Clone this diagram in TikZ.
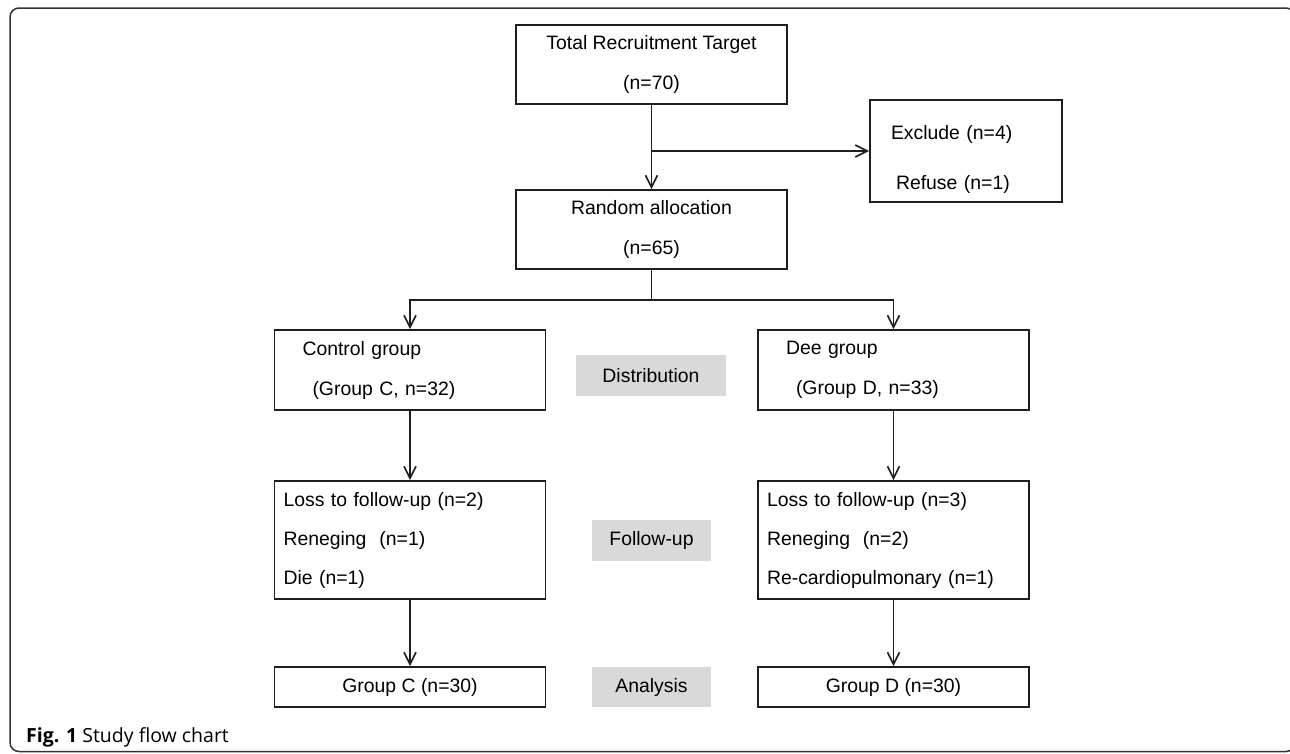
\documentclass[tikz,border=0pt]{standalone}
\usepackage{fontspec}
\setmainfont{Liberation Sans}
\newfontfamily\capfont{Open Sans}
\usepackage{xcolor}
\usepackage{tikz}
\usetikzlibrary{positioning,arrows.meta,calc}
\definecolor{tagGray}{HTML}{D9D9D9}
\definecolor{lineDark}{HTML}{1E1E1E}

\tikzset{
  flowBox/.style={draw=lineDark, line width=1.7pt, rectangle, minimum width=271pt,
    inner sep=0pt, align=center, font=\fontsize{19.4}{40}\selectfont},
  listBox/.style={flowBox, text width=253pt, inner xsep=9pt, align=left,
    font=\fontsize{19.4}{39}\selectfont},
  groupBox/.style={flowBox, text width=215pt, inner xsep=28pt, align=left},
  stageTag/.style={fill=tagGray, minimum height=41pt, inner sep=0pt,
    font=\fontsize{19.4}{23}\selectfont},
  flowArrow/.style={draw=lineDark, line width=1.7pt,
    -{Straight Barb[length=12pt,width=12pt,line width=1.7pt]}},
}

\begin{document}
\begin{tikzpicture}[x=1pt, y=-1pt]
  \useasboundingbox (0,0) rectangle (1290,753);
  % outer frame
  \draw[black!80, line width=1.5pt, rounded corners=9pt] (10,8) rectangle (1295,751.5);

  % Boxes
  \node[flowBox, minimum height=79pt] (total) at (651.5,64.5) {Total Recruitment Target\\(n=70)};
  \node[flowBox, minimum width=192pt, minimum height=102pt, text width=150pt,
        inner xsep=21pt, align=left, font=\fontsize{19.4}{50}\selectfont]
        (excl) at (966,151) {\raisebox{-13pt}[0pt][0pt]{Exclude (n=4)}\\\hspace*{5pt}\raisebox{-13pt}[0pt][0pt]{Refuse (n=1)}};
  \node[flowBox, minimum height=79pt] (rand) at (651.5,229.5) {Random allocation\\(n=65)};

  \node[groupBox, minimum height=80pt] (ctrl) at (410,370)
    {Control group\\\hspace*{10pt}(Group C, n=32)};
  \node[groupBox, minimum height=80pt] (dee) at (893.5,370)
    {Dee group\\\hspace*{10pt}(Group D, n=33)};

  \node[listBox, minimum height=118pt] (lossC) at (410,540)
    {Loss to follow-up (n=2)\\Reneging\ \ (n=1)\\Die (n=1)};
  \node[listBox, minimum height=118pt] (lossD) at (893.5,540)
    {Loss to follow-up (n=3)\\Reneging\ \ (n=2)\\Re-cardiopulmonary (n=1)};

  \node[flowBox, minimum height=40pt] (grpC) at (410,687) {Group C (n=30)};
  \node[flowBox, minimum height=40pt] (grpD) at (893.5,687) {Group D (n=30)};

  % Stage labels
  \node[stageTag, minimum width=150pt] (tagDist) at (651,375.5) {Distribution};
  \node[stageTag, minimum width=119pt] (tagFoll) at (651.5,540) {Follow-up};
  \node[stageTag, minimum width=119pt, minimum height=40pt] (tagAna) at (651.5,687) {Analysis};

  % Connectors
  \draw[flowArrow] (total) -- (rand);
  \draw[flowArrow] (total.south |- excl.west) -- (excl.west);
  \draw[flowArrow] (rand.south) -- ++(0,30) -| (ctrl.north);
  \draw[flowArrow] (rand.south) -- ++(0,30) -| (dee.north);
  \draw[flowArrow] (ctrl) -- (lossC);
  \draw[flowArrow] (dee) -- (lossD);
  \draw[flowArrow] (lossC) -- (grpC);
  \draw[flowArrow] (lossD) -- (grpD);

  % Caption
  \node[anchor=base west, inner sep=0pt, font=\capfont\fontsize{19.5}{23}\selectfont]
    (caption) at (26,742) {\textbf{Fig. 1} Study flow chart};
\end{tikzpicture}
\end{document}
